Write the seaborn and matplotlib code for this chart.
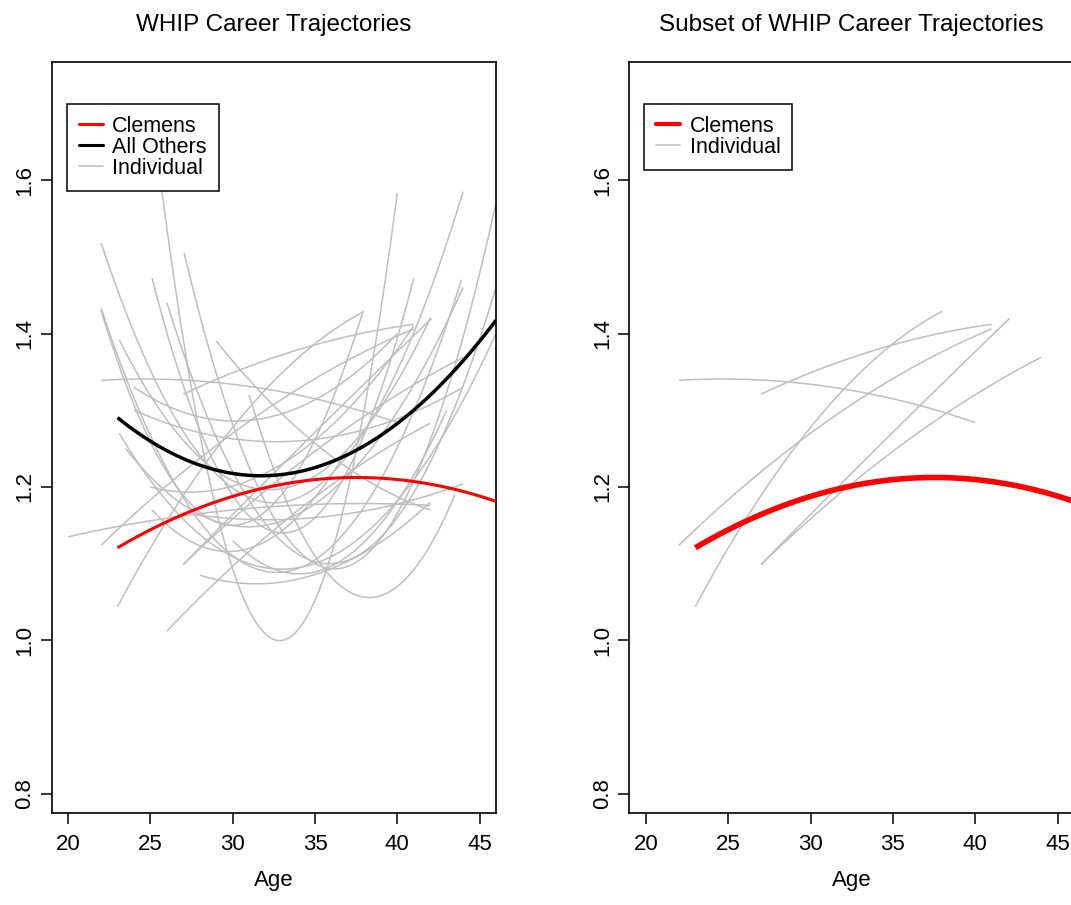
import matplotlib
matplotlib.use("Agg")
import numpy as np
import pandas as pd
import matplotlib.pyplot as plt
import seaborn as sns
from matplotlib.lines import Line2D

# ---------------- data ----------------
clemens_age = [23.0, 30.0, 37.5, 46.0]
clemens_whip = [1.121, 1.187, 1.213, 1.181]

others_age = [23.0, 31.8, 40.0, 46.0]
others_whip = [1.290, 1.216, 1.281, 1.418]

# each individual trajectory: start, middle, end point (age, whip)
ind_age_start = [22.0, 25.7, 27.05, 25.1, 22.0, 26.0, 23.1, 22.0, 23.1, 20.0, 26.0, 28.0, 31.0, 25.1, 27.0,
                 24.0, 25.0, 29.0, 23.5, 30.0, 24.0,
                 22.0, 27.0, 22.0, 23.0, 27.0, 27.0]
ind_whip_start = [1.518, 1.585, 1.505, 1.472, 1.433, 1.440, 1.392, 1.430, 1.270, 1.135, 1.012, 1.085, 1.320, 1.170, 1.166,
                  1.330, 1.200, 1.390, 1.250, 1.130, 1.300,
                  1.339, 1.321, 1.124, 1.044, 1.099, 1.099]
ind_age_mid = [32.0, 32.7, 35.0, 33.0, 32.0, 36.0, 31.0, 30.0, 31.0, 30.0, 34.0, 34.0, 38.45, 31.0, 35.0,
               32.0, 33.0, 36.0, 32.0, 37.0, 34.0,
               31.0, 34.0, 30.0, 29.0, 34.0, 34.0]
ind_whip_mid = [1.180, 1.000, 1.100, 1.140, 1.090, 1.100, 1.200, 1.150, 1.100, 1.170, 1.170, 1.080, 1.056, 1.120, 1.160,
                1.290, 1.230, 1.240, 1.150, 1.110, 1.260,
                1.331, 1.379, 1.270, 1.250, 1.250, 1.230]
ind_age_end = [44.0, 40.0, 46.0, 41.0, 43.9, 46.0, 42.0, 37.9, 46.0, 42.0, 42.0, 42.0, 43.5, 37.0, 44.0,
               40.0, 41.0, 42.0, 44.0, 43.0, 44.0,
               40.0, 41.0, 41.0, 38.0, 42.1, 44.0]
ind_whip_end = [1.585, 1.583, 1.570, 1.472, 1.470, 1.460, 1.420, 1.428, 1.400, 1.176, 1.283, 1.180, 1.190, 1.250, 1.204,
                1.400, 1.410, 1.170, 1.460, 1.300, 1.330,
                1.284, 1.412, 1.406, 1.429, 1.420, 1.369]
subset_ids = [21, 22, 23, 24, 25, 26]

# ---------------- build long table ----------------
rows = []
for i in range(len(ind_age_start)):
    for a, w in ((ind_age_start[i], ind_whip_start[i]),
                 (ind_age_mid[i], ind_whip_mid[i]),
                 (ind_age_end[i], ind_whip_end[i])):
        rows.append({"player": i, "Age": a, "WHIP": w})
ind_df = pd.DataFrame(rows)
clem_df = pd.DataFrame({"Age": clemens_age, "WHIP": clemens_whip})
oth_df = pd.DataFrame({"Age": others_age, "WHIP": others_whip})

# ---------------- style ----------------
sns.set_theme(style="white")
plt.rcParams['font.family'] = ['Liberation Sans', 'DejaVu Sans']
plt.rcParams['text.color'] = 'black'
plt.rcParams['axes.labelcolor'] = 'black'
plt.rcParams['xtick.color'] = 'black'
plt.rcParams['ytick.color'] = 'black'

GRAY = "#BEBEBE"
RED = "#FF0000"

fig = plt.figure(figsize=(10.71, 9.05), dpi=100)
ax1 = fig.add_axes([0.0483, 0.1017, 0.4148, 0.8298])
ax2 = fig.add_axes([0.5877, 0.1017, 0.4151, 0.8298])


def draw_traj(ax, df, color, lw, z):
    sns.regplot(data=df, x="Age", y="WHIP", order=2, ci=None, scatter=False,
                truncate=True, ax=ax, line_kws=dict(color=color, lw=lw, zorder=z,
                                                    solid_capstyle="butt"))


for pid, g in ind_df.groupby("player"):
    draw_traj(ax1, g, GRAY, 1.1, 2)
draw_traj(ax1, oth_df, "black", 2.5, 4)
draw_traj(ax1, clem_df, RED, 2.2, 5)

for pid in subset_ids:
    draw_traj(ax2, ind_df[ind_df.player == pid], GRAY, 1.1, 2)
draw_traj(ax2, clem_df, RED, 4.0, 5)

for ax, title in ((ax1, "WHIP Career Trajectories"),
                  (ax2, "Subset of WHIP Career Trajectories")):
    ax.set_xlim(19, 46)
    ax.set_ylim(0.775, 1.754)
    ax.set_xticks([20, 25, 30, 35, 40, 45])
    ax.set_yticks([0.8, 1.0, 1.2, 1.4, 1.6])
    ax.set_yticklabels(["0.8", "1.0", "1.2", "1.4", "1.6"])
    ax.set_xlabel("Age", fontsize=16, labelpad=11, color="black")
    ax.set_ylabel("")
    ax.set_title(title, fontsize=17.5, pad=22, color="black")
    for s in ax.spines.values():
        s.set_visible(True)
        s.set_color("black")
        s.set_linewidth(1.2)
    ax.tick_params(axis="both", which="both", bottom=True, left=True, top=False, right=False,
                   direction="out", length=8, width=1.1, color="black", labelsize=16,
                   labelcolor="black")
    ax.tick_params(axis="x", pad=7)
    ax.tick_params(axis="y", pad=4, labelrotation=90)
    for lab in ax.get_yticklabels():
        lab.set_va("center")
    ax.grid(False)
    ax.set_facecolor("white")

h1 = [Line2D([], [], color=RED, lw=2.2),
      Line2D([], [], color="black", lw=2.2),
      Line2D([], [], color=GRAY, lw=1.1)]
leg1 = ax1.legend(h1, ["Clemens", "All Others", "Individual"], loc="upper left",
                  bbox_to_anchor=(0.0347, 0.944), borderaxespad=0, fontsize=15.5,
                  frameon=True, fancybox=False, framealpha=1, edgecolor="black",
                  handlelength=1.12, handletextpad=0.43, labelspacing=0.0, borderpad=0.55)
leg1.get_frame().set_linewidth(1.1)

h2 = [Line2D([], [], color=RED, lw=3.0),
      Line2D([], [], color=GRAY, lw=1.1)]
leg2 = ax2.legend(h2, ["Clemens", "Individual"], loc="upper left",
                  bbox_to_anchor=(0.0335, 0.944), borderaxespad=0, fontsize=15.5,
                  frameon=True, fancybox=False, framealpha=1, edgecolor="black",
                  handlelength=1.12, handletextpad=0.43, labelspacing=0.0, borderpad=0.55)
leg2.get_frame().set_linewidth(1.1)
for leg in (leg1, leg2):
    for t in leg.get_texts():
        t.set_color("black")

fig.savefig("out.png", dpi=100, facecolor="white")
